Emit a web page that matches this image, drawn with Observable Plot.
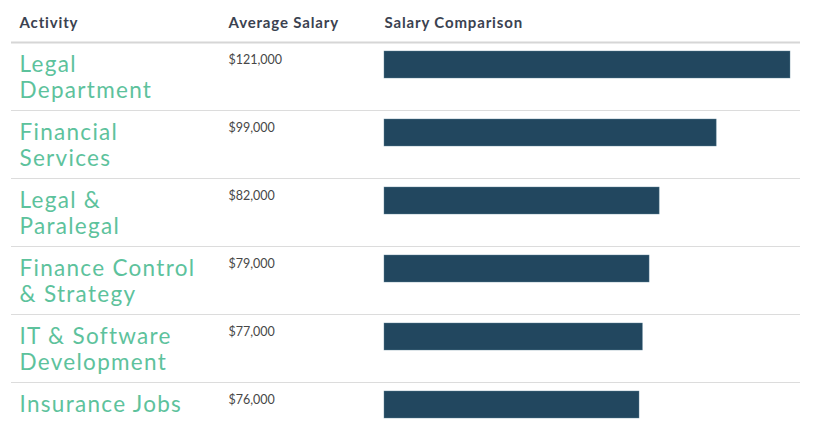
<!DOCTYPE html>
<html>
<head>
<meta charset="utf-8">
<script src="https://cdn.jsdelivr.net/npm/d3@7"></script>
<script src="https://cdn.jsdelivr.net/npm/@observablehq/plot@0.6"></script>
<style>
  html, body { margin: 0; padding: 0; background: #fff; }
  #chart svg { display: block; }
</style>
</head>
<body>
<div id="chart"></div>
<script>
const activities = [
  "Legal\nDepartment",
  "Financial\nServices",
  "Legal &\nParalegal",
  "Finance Control\n& Strategy",
  "IT & Software\nDevelopment",
  "Insurance Jobs"
];
const salaries = [121000, 99000, 82000, 79000, 77000, 76000];
const salaryLabels = ["$121,000", "$99,000", "$82,000", "$79,000", "$77,000", "$76,000"];
const headers = ["Activity", "Average Salary", "Salary Comparison"];

const data = activities.map((a, i) => ({activity: a, salary: salaries[i], label: salaryLabels[i]}));

const headerStyle = {fontSize: 15, fontWeight: "bold", fill: "#3b4250", lineAnchor: "middle", textAnchor: "start"};

const chart = Plot.plot({
  width: 831,
  height: 436,
  marginLeft: 11,
  marginRight: 31,
  marginTop: 42,
  marginBottom: 0,
  style: {fontFamily: "Lato, 'Open Sans', sans-serif", background: "#fff"},
  x: {domain: [0, 121000], range: [384, 790], axis: null},
  y: {domain: activities, range: [42, 450], padding: 0, axis: null},
  marks: [
    Plot.ruleY(data.slice(1), {y: "activity", dy: -34, stroke: "#dcdcdc", strokeWidth: 1}),
    Plot.ruleY(data.slice(0, 1), {y: "activity", dy: -34, stroke: "#d6d6d6", strokeWidth: 2}),
    Plot.barX(data, {x: "salary", y: "activity", insetTop: 9, insetBottom: 32, fill: "#22475f", stroke: "#5d8197", strokeWidth: 0.6, strokeOpacity: 0.7}),
    Plot.text(data, {y: "activity", text: "activity", frameAnchor: "left", textAnchor: "start", dx: 8, dy: -23, lineAnchor: "top", fontSize: 22.5, lineHeight: 1.16, fill: "#5dc29c"}),
    Plot.text(data, {y: "activity", text: "label", frameAnchor: "left", textAnchor: "start", dx: 217, dy: -21, lineAnchor: "top", fontSize: 12.5, fill: "#474747"}),
    Plot.text([headers[0]], {text: d => d, frameAnchor: "top-left", dx: 8, dy: -19, ...headerStyle}),
    Plot.text([headers[1]], {text: d => d, frameAnchor: "top-left", dx: 217, dy: -19, ...headerStyle}),
    Plot.text([headers[2]], {x: () => 0, text: d => d, frameAnchor: "top", dy: -19, ...headerStyle})
  ]
});
const textGroups = d3.select(chart).selectAll('g[aria-label="text"]').nodes();
d3.select(textGroups[0]).style("letter-spacing", "1.3px");
textGroups.slice(2).forEach(g => d3.select(g).style("letter-spacing", "0.85px"));
document.getElementById("chart").appendChild(chart);
</script>
</body>
</html>
